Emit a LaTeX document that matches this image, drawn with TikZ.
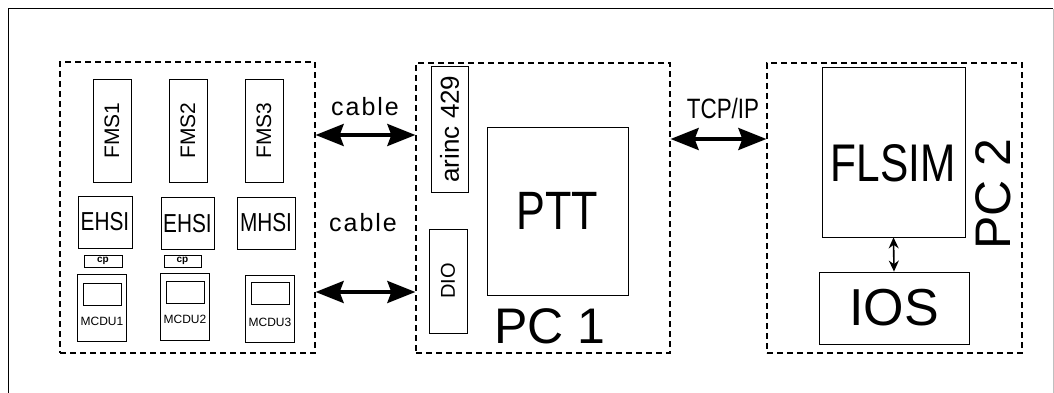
\documentclass[tikz,border=0pt]{standalone}
\usepackage{fontspec}
\setmainfont{Liberation Sans}
\newfontfamily\narrowfont[FakeStretch=0.8]{Liberation Sans}
\newfontfamily\widefont[LetterSpace=8]{Liberation Sans}
\usetikzlibrary{arrows.meta,positioning}
\newcommand{\fs}[1]{\fontsize{#1}{#1}\selectfont}

\begin{document}
\begin{tikzpicture}[x=1pt,y=-1pt,
  box/.style={draw,line width=0.8pt,inner sep=0pt},
  group/.style={draw,line width=1.3pt,dash pattern=on 6pt off 4pt,inner sep=0pt},
  link/.style={line width=3.5pt,{Stealth[length=28pt,width=22pt,inset=4pt]}-{Stealth[length=28pt,width=22pt,inset=4pt]}},
  minilink/.style={line width=1.6pt,{Stealth[length=11pt,width=10pt]}-{Stealth[length=11pt,width=10pt]}},
  fms/.style={box,rotate=90,minimum width=103pt,minimum height=38pt,font=\fs{21}},
  hsi/.style={box,minimum height=52pt,font=\narrowfont\fs{26}},
  mcdu/.style={box,minimum width=49pt,minimum height=67pt},
  screen/.style={box,minimum width=38pt,minimum height=22pt},
  mlabel/.style={inner sep=0pt,font=\fs{12}}]
\useasboundingbox (0,0) rectangle (1054,393);

% outer frame
\draw[line width=1pt] (8,393) -- (8,9) -- (1053,9);
\draw[line width=0.6pt,black!25] (1053,9) -- (1053,393);

% cockpit part
\node[group,minimum width=255pt,minimum height=291pt] (cockpit) at (187.5,207.5) {};
\node[fms] (fms1) at (112,130.5) {FMS1};
\node[fms] (fms2) at (188,130.5) {FMS2};
\node[fms] (fms3) at (264,130.5) {FMS3};
\node[hsi,minimum width=54pt] (ehsi1) at (105,222) {EHSI};
\node[hsi,minimum width=53pt] (ehsi2) at (187.5,223.5) {EHSI};
\node[hsi,minimum width=58pt] (mhsi) at (266,223) {MHSI};
\node[box,minimum width=38pt,minimum height=12pt,font=\bfseries\fs{10}] (cp1) at (103,261) {cp};
\node[box,minimum width=37pt,minimum height=12pt,font=\bfseries\fs{10}] (cp2) at (182.5,261) {cp};
\node[mcdu] (mcdu1) at (102,307.5) {};
\node[mcdu] (mcdu2) at (184.5,307) {};
\node[mcdu] (mcdu3) at (270,308.5) {};
\node[screen] (scr1) at (102,294) {};
\node[screen] (scr2) at (185,292) {};
\node[screen] (scr3) at (270,293.5) {};
\node[mlabel] (mtxt1) at (102,321) {MCDU1};
\node[mlabel] (mtxt2) at (185,319) {MCDU2};
\node[mlabel] (mtxt3) at (270,322) {MCDU3};

% PC 1
\node[group,minimum width=254pt,minimum height=290pt] (pc1) at (543,208) {};
\node[box,rotate=90,minimum width=126pt,minimum height=37pt,font=\fs{26}] (arinc) at (449.5,129) {arinc 429};
\node[box,rotate=90,minimum width=104pt,minimum height=38pt,font=\fs{20}] (dio) at (448,281) {DIO};
\node[box,minimum width=141pt,minimum height=168pt,font=\narrowfont\fs{54}] (ptt) at (557.5,211) {PTT};
\node[inner sep=0pt,font=\fs{50}] (pc1txt) at (550,326) {PC 1};

% PC 2
\node[group,minimum width=255pt,minimum height=290pt] (pc2) at (894.5,208) {};
\node[box,minimum width=143pt,minimum height=170pt] (flsim) at (893.5,152) {};
\node[inner sep=0pt,font=\narrowfont\fs{53}] (flsimtxt) at (893,163) {FLSIM};
\node[box,minimum width=150pt,minimum height=72pt,font=\fs{52}] (ios) at (894,308) {IOS};
\node[inner sep=0pt,rotate=90,font=\fs{50}] (pc2txt) at (993,194) {PC 2};

% links
\coordinate (c1) at (365,135);
\coordinate (c2) at (365,292);
\coordinate (c3) at (718,139);
\draw[link] (cockpit.east |- c1) -- (pc1.west |- c1);
\draw[link] (cockpit.east |- c2) -- (pc1.west |- c2);
\draw[link] (pc1.east |- c3) -- (pc2.west |- c3);
\draw[minilink] (flsim.south) -- (ios.north);
\node[font=\widefont\fs{25}] (cab1) at (365,107) {cable};
\node[font=\widefont\fs{25}] (cab2) at (363,223) {cable};
\node[font=\narrowfont\fs{28}] (tcp) at (723,108) {TCP/IP};
\end{tikzpicture}
\end{document}
